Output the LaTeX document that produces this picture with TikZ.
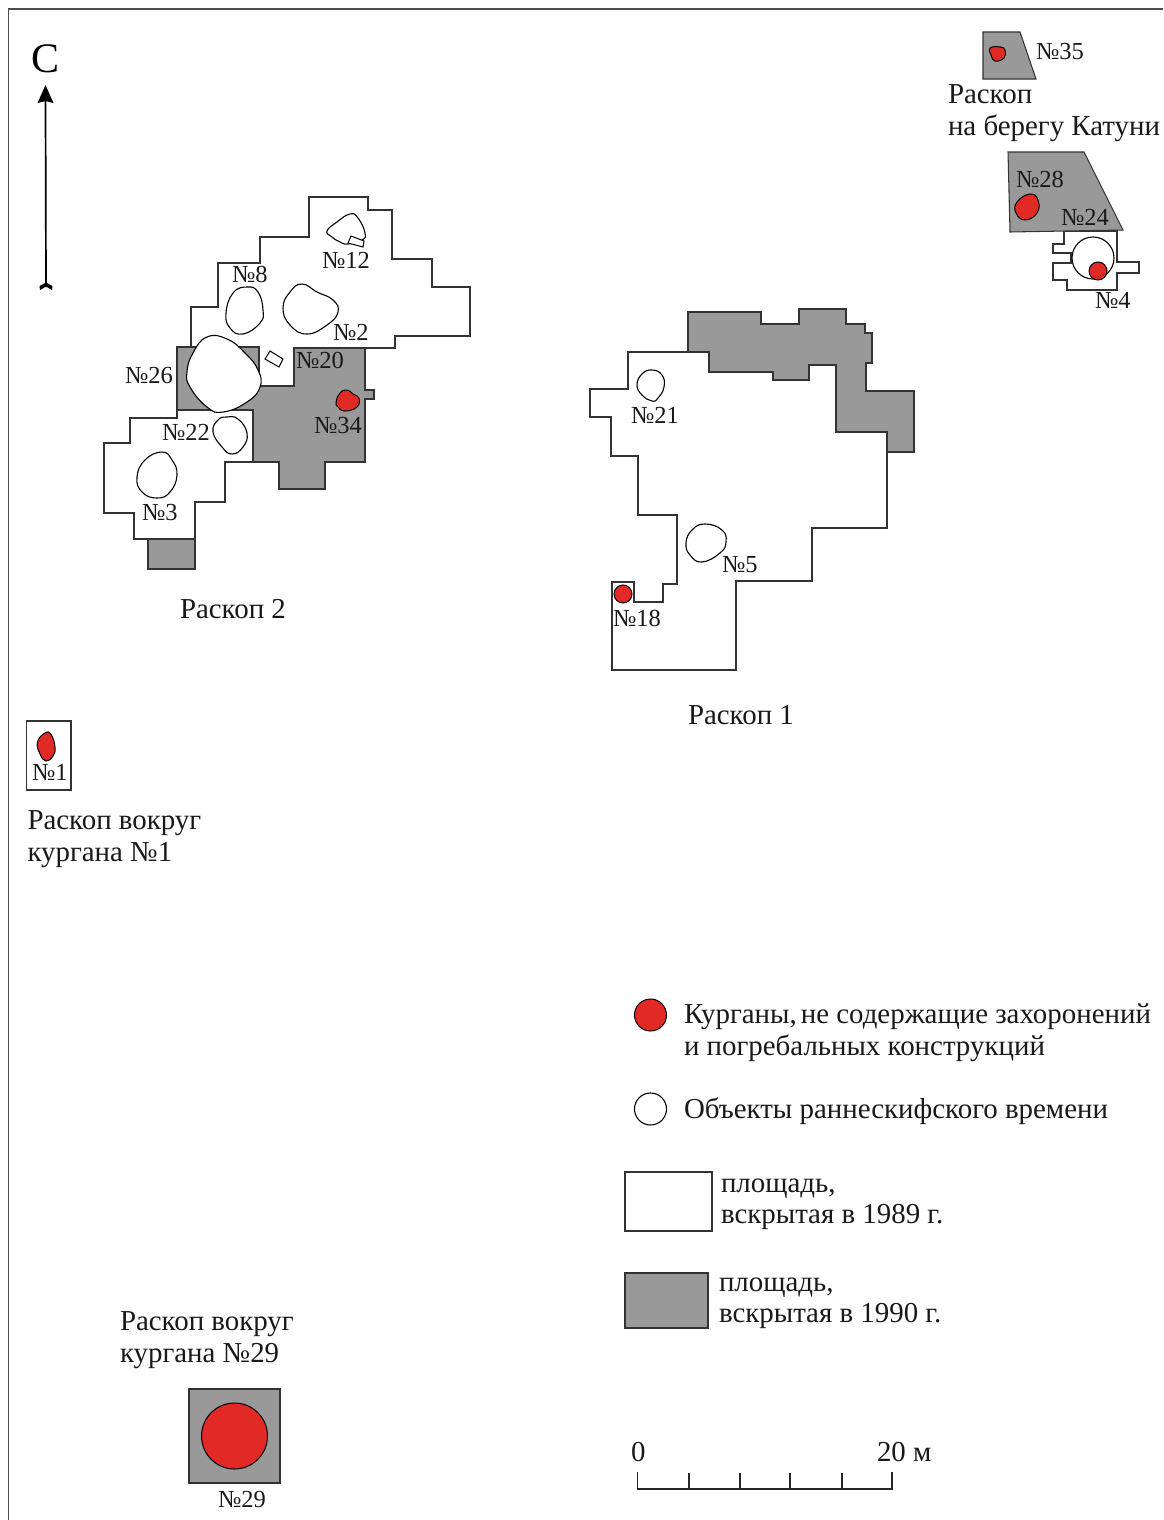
\documentclass[tikz,border=0pt]{standalone}
\usepackage{fontspec}
\setmainfont{Liberation Serif}
\definecolor{pitgray}{HTML}{999999}
\definecolor{moundred}{HTML}{E12A26}
\definecolor{inkline}{HTML}{333333}
\newcommand{\blobpath}[1]{plot[smooth cycle,tension=0.8] coordinates {#1}}
\tikzset{
  areawhite/.style={draw=inkline,line width=1.05pt,fill=white,line join=miter},
  areagray/.style={draw=inkline,line width=1.05pt,fill=pitgray,line join=miter},
  objwhite/.style={draw=black,line width=1.1pt,fill=white},
  objred/.style={draw=black,line width=1.0pt,fill=moundred},
  numlbl/.style={anchor=base west,inner sep=0pt,outer sep=0pt,yshift=-0.7pt,font=\fontsize{24.5}{28}\selectfont,text=black!90},
  txtlbl/.style={anchor=base west,inner sep=0pt,outer sep=0pt,font=\fontsize{28.9}{32}\selectfont,text=black!90},
}
\begin{document}
\begin{tikzpicture}[x=1pt,y=-1pt]
\useasboundingbox (0,0) rectangle (1163,1520);
\fill[white] (0,0) rectangle (1163,1520);
% frame
\draw[line width=1.2pt,draw=black!70] (8.5,1520) -- (8.5,9) -- (1163,9);
% north arrow
\node[anchor=base west,inner sep=0pt,font=\fontsize{42}{46}\selectfont] (north) at (31,72) {С};
\coordinate (arrtip) at (45.5,85);
\coordinate (arrtail) at (46,287);
\draw[line width=1.7pt,black] (45.5,100) -- (arrtail);
\fill[black] (arrtip) -- (53.5,103) -- (45.5,101) -- (37.5,103) -- cycle;
\fill[black] (46,282.5) -- (52.5,286) -- (52,290) -- (46,286.5) -- (40,290) -- (39.5,286) -- cycle;

% Raskop 2
\draw[areawhite] (309,197)--(368,197)--(368,210)--(392,210)--(392,259)--(432,259)--(432,287)--(470,287)--(470,336)--(395,336)--(395,348)--(294,348)--(294,386)--(253,386)--(253,462)--(225,462)--(225,502)--(195,502)--(195,539)--(134,539)--(134,513)--(104,513)--(104,443)--(130,443)--(130,418)--(177,418)--(177,347)--(191,347)--(191,307)--(218,307)--(218,263)--(260,263)--(260,237)--(309,237)--cycle;
\draw[areagray] (177,347)--(259,347)--(259,386)--(294,386)--(294,348)--(365,348)--(365,390)--(374,390)--(374,399)--(365,399)--(365,462)--(325,462)--(325,489)--(279,489)--(279,462)--(253,462)--(253,410)--(177,410)--cycle;
\draw[areagray] (148,539) rectangle (195,569);
\draw[objwhite] \blobpath{(207,337)(227,339)(245,353)(258,370)(260,387)(247,402)(223,412)(207,407)(190,387)(187,372)(193,353)};
\draw[objwhite] \blobpath{(247,287)(258,292)(263,310)(260,323)(243,334)(230,328)(226,313)(233,293)};
\draw[objwhite] \blobpath{(302,284)(317,292)(333,300)(338,312)(327,325)(307,334)(290,325)(283,308)(290,292)};
\draw[objwhite] \blobpath{(327,231)(337,222)(350,214)(358,218)(365,233)(362,240)(348,244)(340,242)(332,237)};
\draw[objwhite,line width=1pt] (351,236)--(364,241)--(363,247)--(348,243)--cycle;
\draw[objwhite,line width=1pt] (270,351)--(283,359)--(279,367)--(265,359)--cycle;
\draw[objwhite] \blobpath{(227,417)(238,419)(247,433)(243,447)(232,454)(222,447)(213,432)(218,420)};
\draw[objwhite] \blobpath{(162,452)(172,460)(177,475)(170,492)(157,498)(142,492)(137,477)(145,460)};
\draw[objred] \blobpath{(347,390)(353,394)(359,398)(357,407)(345,411)(338,407)(336,402)(340,393)};

% Raskop 1
\draw[areagray] (688,312)--(761,312)--(761,324)--(799,324)--(799,309)--(846,309)--(846,324)--(865,324)--(865,333)--(872,333)--(872,363)--(866,363)--(866,391)--(914,391)--(914,452)--(887,452)--(887,432)--(836,432)--(836,365)--(809,365)--(809,380)--(773,380)--(773,372)--(709,372)--(709,352)--(688,352)--cycle;
\draw[areawhite] (628,352)--(709,352)--(709,372)--(773,372)--(773,380)--(809,380)--(809,365)--(836,365)--(836,432)--(887,432)--(887,528)--(812,528)--(812,581)--(736,581)--(736,670)--(612,670)--(612,582)--(634,582)--(634,602)--(663,602)--(663,584)--(677,584)--(677,515)--(638,515)--(638,456)--(611,456)--(611,417)--(590,417)--(590,389)--(628,389)--cycle;
\draw[objwhite] \blobpath{(652,370)(662,375)(664,387)(658,398)(652,401)(642,395)(637,385)(642,374)};
\draw[objwhite] \blobpath{(705,524)(722,530)(726,542)(720,553)(702,562)(690,555)(686,543)(692,530)};
\draw[objred] (623,594) circle (9);

% Katun bank
\draw[areagray] (983,32)--(1020,32)--(1036,79)--(983,79)--cycle;
\draw[objred] \blobpath{(990,48)(1000,47)(1005,50)(1004,58)(995,61)(991,55)};
\draw[areawhite] (1064,231)--(1064,244)--(1053,244)--(1053,253)--(1071,253)--(1071,263)--(1053,263)--(1053,280)--(1067,280)--(1067,290)--(1117,290)--(1117,273)--(1139,273)--(1139,262)--(1117,262)--(1117,231)--cycle;
\draw[areagray] (1008,152)--(1084,152)--(1123,230)--(1010,232)--cycle;
\draw[objred] \blobpath{(1030,194)(1038,200)(1037,213)(1025,220)(1016,213)(1017,202)};
\draw[objwhite] (1093,258) circle (21);
\draw[objred] (1098,271) circle (9);
\draw[black,line width=0.6pt,dotted] (1093,278) -- (1106,274);

% No 1
\draw[areawhite] (26.5,721) rectangle (71,790);
\draw[objred] \blobpath{(45,733)(51,734.5)(55,747)(53,756)(46,761)(40,754)(37.5,742)};

% No 29
\draw[areagray] (189,1389) rectangle (280,1483);
\draw[objred] (234.5,1436) circle (33);

% legend
\draw[objred] (650.5,1015) circle (16);
\draw[objwhite] (650.5,1109) circle (16);
\draw[areawhite] (625,1172) rectangle (712,1231);
\draw[areagray] (625,1273) rectangle (708,1328);

% scale
\coordinate (sc0) at (637.5,1472);
\coordinate (sc5) at (892,1472);
\draw[line width=1.1pt,black!85] (sc0) -- (637.5,1489) -- (892,1489) -- (sc5);
\draw[line width=1.1pt,black!85] (689,1473)--(689,1489) (740,1473)--(740,1489) (790,1473)--(790,1489) (842,1473)--(842,1489);

% numbers
\node[numlbl] (n12) at (322,268) {№12};
\node[numlbl] (n8) at (232,282) {№8};
\node[numlbl] (n2) at (333,340) {№2};
\node[numlbl] (n20) at (296,368) {№20};
\node[numlbl] (n26) at (125,383) {№26};
\node[numlbl] (n22) at (162,440) {№22};
\node[numlbl] (n34) at (314,433) {№34};
\node[numlbl] (n3) at (142,520) {№3};
\node[numlbl] (n21) at (631,423) {№21};
\node[numlbl] (n5) at (722,572) {№5};
\node[numlbl] (n18) at (613,626) {№18};
\node[numlbl] (n35) at (1036,59) {№35};
\node[numlbl] (n28) at (1016,187) {№28};
\node[numlbl] (n24) at (1061,225) {№24};
\node[numlbl] (n4) at (1095,308) {№4};
\node[numlbl] (n1) at (32,780) {№1};
\node[numlbl] (n29) at (218,1507) {№29};

% captions
\node[txtlbl] (r2) at (180,618) {Раскоп 2};
\node[txtlbl] (r1) at (688,724) {Раскоп 1};
\node[txtlbl] (rk1) at (948,103) {Раскоп};
\node[txtlbl] (rk2) at (948,135) {на берегу Катуни};
\node[txtlbl] (ra1) at (27.5,829) {Раскоп вокруг};
\node[txtlbl] (ra2) at (27.5,861) {кургана №1};
\node[txtlbl] (rb1) at (120,1330) {Раскоп вокруг};
\node[txtlbl] (rb2) at (120,1362) {кургана №29};
\node[txtlbl] (l1) at (684,1023) {Курганы,\hspace{4pt}не содержащие захоронений};
\node[txtlbl] (l2) at (684,1055) {и погребальных конструкций};
\node[txtlbl] (l3) at (684,1118.5) {Объекты раннескифского времени};
\node[txtlbl] (l4) at (721,1192) {площадь,};
\node[txtlbl] (l5) at (721,1223) {вскрытая в 1989 г.};
\node[txtlbl] (l6) at (719,1291) {площадь,};
\node[txtlbl] (l7) at (719,1322) {вскрытая в 1990 г.};
\node[txtlbl] (s0) at (631,1461) {0};
\node[txtlbl] (s20) at (877,1461) {20 м};
\end{tikzpicture}
\end{document}
